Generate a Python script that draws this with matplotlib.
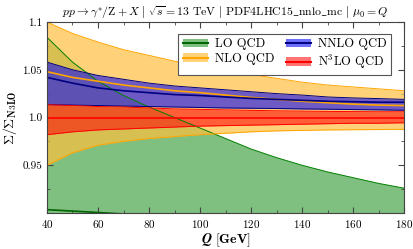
import numpy as np
import matplotlib
matplotlib.use("Agg")
import matplotlib.pyplot as plt
from matplotlib.patches import Patch
from matplotlib.lines import Line2D
from matplotlib.ticker import FixedLocator, MultipleLocator

plt.rcParams['font.family'] = 'serif'
plt.rcParams['font.serif'] = ['cmr10']
plt.rcParams['mathtext.fontset'] = 'cm'
plt.rcParams['axes.formatter.use_mathtext'] = True

Q = [40, 50, 60, 70, 80, 90, 100, 110, 120, 130, 140, 150, 160, 170, 180]

lo_c  = [0.9035, 0.902, 0.9005, 0.899, 0.8975, 0.896, 0.8945, 0.893, 0.8915, 0.890, 0.8885, 0.887, 0.8855, 0.884, 0.8825]
lo_up = [1.084, 1.058, 1.038, 1.023, 1.011, 1.000, 0.989, 0.978, 0.967, 0.958, 0.950, 0.943, 0.937, 0.931, 0.926]
lo_lo = [0.780, 0.782, 0.784, 0.786, 0.788, 0.790, 0.792, 0.794, 0.796, 0.798, 0.800, 0.802, 0.804, 0.806, 0.808]

nlo_c  = [1.048, 1.042, 1.038, 1.034, 1.031, 1.028, 1.026, 1.0235, 1.021, 1.019, 1.017, 1.0155, 1.014, 1.013, 1.0125]
nlo_up = [1.100, 1.088, 1.079, 1.071, 1.065, 1.059, 1.054, 1.049, 1.045, 1.041, 1.037, 1.034, 1.032, 1.030, 1.028]
nlo_lo = [0.950, 0.963, 0.971, 0.975, 0.978, 0.980, 0.982, 0.9835, 0.985, 0.986, 0.9865, 0.987, 0.9872, 0.9874, 0.9876]

nnlo_c  = [1.042, 1.036, 1.031, 1.028, 1.026, 1.024, 1.023, 1.0215, 1.020, 1.019, 1.018, 1.017, 1.0165, 1.016, 1.016]
nnlo_up = [1.058, 1.050, 1.044, 1.040, 1.036, 1.033, 1.031, 1.029, 1.027, 1.025, 1.0235, 1.0215, 1.0205, 1.0198, 1.019]
nnlo_lo = [1.0135, 1.013, 1.0125, 1.012, 1.0115, 1.011, 1.0105, 1.010, 1.0097, 1.0094, 1.009, 1.0087, 1.0083, 1.008, 1.0076]

n3lo_c  = [1.0, 1.0, 1.0, 1.0, 1.0, 1.0, 1.0, 1.0, 1.0, 1.0, 1.0, 1.0, 1.0, 1.0, 1.0]
n3lo_up = [1.0135, 1.0125, 1.0115, 1.011, 1.010, 1.009, 1.0085, 1.008, 1.0075, 1.007, 1.0067, 1.0064, 1.0062, 1.006, 1.006]
n3lo_lo = [0.982, 0.985, 0.987, 0.988, 0.989, 0.990, 0.991, 0.9915, 0.992, 0.9925, 0.993, 0.9935, 0.994, 0.994, 0.9945]

labels = ["LO QCD", "NLO QCD", "NNLO QCD", r"N$^3$LO QCD"]
title = (r"$pp \rightarrow \gamma^{*}/\mathrm{Z}+X\ |\ \sqrt{s}=13\ \mathrm{TeV}\ |\ "
         r"\mathrm{PDF4LHC15\_nnlo\_mc}\ |\ \mu_0=Q$")

fig = plt.figure(figsize=(4.14, 2.49), dpi=100)
ax = fig.add_axes([0.1135, 0.1446, 0.8625, 0.767])

bands = [
    (lo_lo, lo_up, lo_c, "#008000", "#008000", "#006400", 0.5),
    (nlo_lo, nlo_up, nlo_c, "#FFC040", "#FFA500", "#FFA500", 0.7),
    (nnlo_lo, nnlo_up, nnlo_c, "#0000FF", "#000080", "#000080", 0.57),
    (n3lo_lo, n3lo_up, n3lo_c, "#FF0000", "#FF0000", "#FF0000", 0.55),
]
handles = []
for i, (lo, up, c, fc, ec, lc, a) in enumerate(bands):
    ax.fill_between(Q, lo, up, color=fc, alpha=a, lw=0, zorder=1 + i)
    ax.plot(Q, up, color=ec, lw=0.7, zorder=10 + i)
    ax.plot(Q, lo, color=ec, lw=0.7, zorder=10 + i)
    ax.plot(Q, c, color=lc, lw=1.2, zorder=20 + i)
    handles.append((Patch(facecolor=fc, alpha=a, edgecolor='none'),
                    Line2D([], [], color=lc, lw=1.5)))

ax.set_xlim(40, 180)
ax.set_ylim(0.9, 1.1)
ax.xaxis.set_major_locator(MultipleLocator(20))
ax.xaxis.set_minor_locator(MultipleLocator(10))
ax.yaxis.set_major_locator(FixedLocator([0.95, 1.0, 1.05, 1.1]))
ax.yaxis.set_minor_locator(FixedLocator([0.925, 0.975, 1.025, 1.075]))
ax.set_yticklabels(["0.95", "1.0", "1.05", "1.1"])
ax.tick_params(which='both', direction='in', top=True, right=True, labelsize=8, color='#444444')
ax.tick_params(which='major', length=4)
ax.tick_params(which='minor', length=2)
for s in ax.spines.values():
    s.set_color('#444444')
    s.set_linewidth(0.8)
    s.set_zorder(50)

ax.set_xlabel(r"$\boldsymbol{Q}\ \mathbf{[GeV]}$", fontsize=10, labelpad=1)
ax.set_ylabel(r"$\mathbf{\Sigma/\Sigma_{N3LO}}$", fontsize=10, labelpad=2)
ax.set_title(title, fontsize=8.5, pad=4)

leg = ax.legend(handles, labels, ncol=2, loc='upper right', fontsize=9,
                frameon=True, fancybox=False, framealpha=1, edgecolor='#555555',
                borderpad=0.35, handlelength=2.0, columnspacing=0.9,
                handletextpad=0.6, labelspacing=0.2, bbox_to_anchor=(0.982, 0.97))
leg.set_zorder(60)
leg.get_frame().set_linewidth(0.8)

fig.savefig("out.png", dpi=100)
